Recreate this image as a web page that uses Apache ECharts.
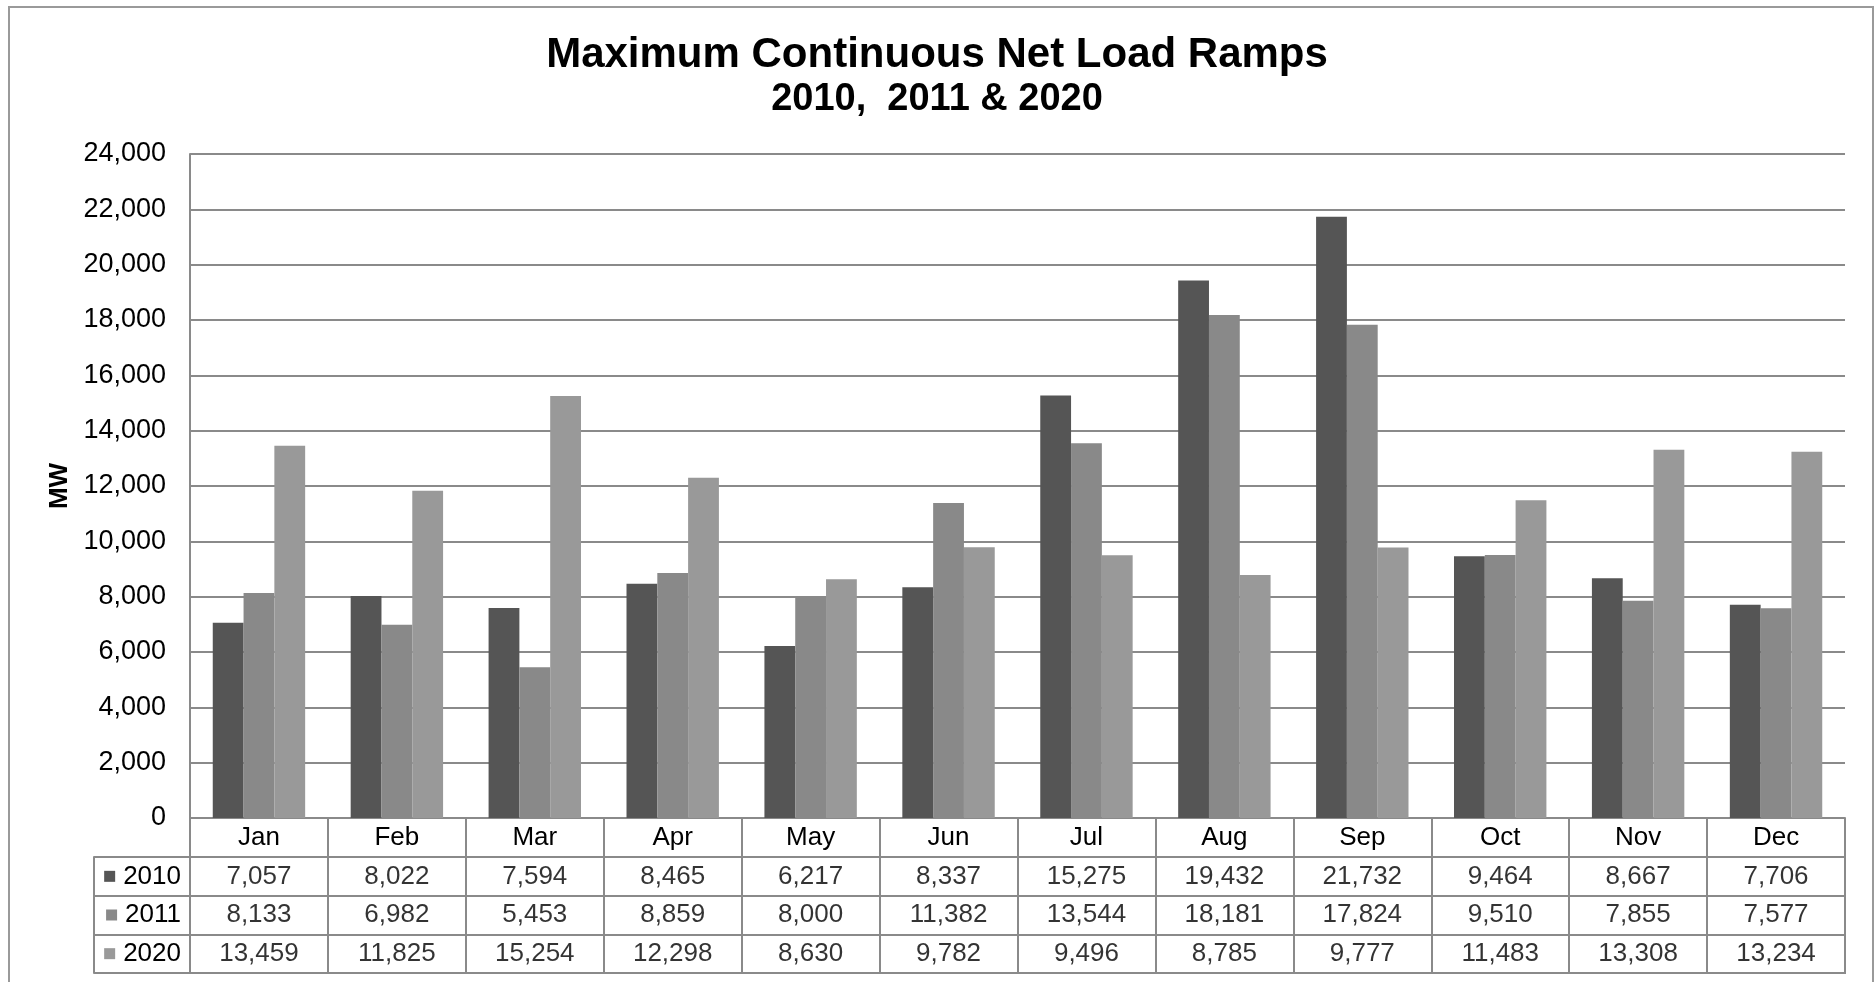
<!DOCTYPE html>
<html>
<head>
<meta charset="utf-8">
<script src="https://cdn.jsdelivr.net/npm/echarts@6/dist/echarts.min.js"></script>
<style>
  html, body { margin: 0; padding: 0; background: #fff; }
  #chart { width: 1874px; height: 982px; }
  #frame { position: absolute; left: 8px; top: 6px; width: 1862px; height: 990px;
           border: 2px solid #9a9a9a; pointer-events: none; }
</style>
</head>
<body>
<div id="chart"></div>
<div id="frame"></div>
<script>
const months = ['Jan','Feb','Mar','Apr','May','Jun','Jul','Aug','Sep','Oct','Nov','Dec'];
const years = ['2010','2011','2020'];
const values2010 = [7057, 8022, 7594, 8465, 6217, 8337, 15275, 19432, 21732, 9464, 8667, 7706];
const values2011 = [8133, 6982, 5453, 8859, 8000, 11382, 13544, 18181, 17824, 9510, 7855, 7577];
const values2020 = [13459, 11825, 15254, 12298, 8630, 9782, 9496, 8785, 9777, 11483, 13308, 13234];
const yTicks = { min: 0, max: 24000, interval: 2000 };
const titleLine1 = 'Maximum Continuous Net Load Ramps';
const titleLine2 = '2010,  2011 & 2020';

const seriesValues = [values2010, values2011, values2020];
const colors = ['#555555', '#898989', '#999999'];
const lineColor = '#8a8a8a';
const font = 'Liberation Sans, Arial, sans-serif';
const fmt = v => Number(v).toLocaleString('en-US');

const chart = echarts.init(document.getElementById('chart'), null, { renderer: 'canvas' });

const barSeries = years.map((y, s) => ({
  name: y,
  type: 'bar',
  xAxisIndex: 0,
  yAxisIndex: 0,
  barGap: '0%',
  barCategoryGap: '33%',
  itemStyle: { color: colors[s] },
  data: seriesValues[s]
}));

const tableSeries = years.map((y, s) => ({
  name: 'table-' + y,
  type: 'scatter',
  xAxisIndex: 1,
  yAxisIndex: 1,
  symbolSize: 0,
  silent: true,
  label: {
    show: true,
    position: 'inside',
    color: '#000',
    fontSize: 26,
    fontFamily: font,
    formatter: p => fmt(p.value[2])
  },
  data: seriesValues[s].map((v, i) => [months[i], y, v])
}));

const richLegend = { t: { fontSize: 26, fontFamily: font, color: '#000', padding: [0, 0, 0, 8] } };
years.forEach((y, s) => {
  richLegend['m' + s] = { width: 11, height: 11, backgroundColor: colors[s] };
});

const option = {
  animation: false,
  backgroundColor: '#fff',
  title: [
    { text: titleLine1, left: 'center', top: 34, padding: 0,
      textStyle: { fontSize: 42, fontWeight: 'bold', color: '#000', fontFamily: font } },
    { text: titleLine2, left: 'center', top: 81, padding: 0,
      textStyle: { fontSize: 38, fontWeight: 'bold', color: '#000', fontFamily: font } }
  ],
  grid: [
    { left: 190, right: 29, top: 154, bottom: 164, containLabel: false },
    { left: 190, right: 29, top: 857, height: 116, show: true,
      borderColor: lineColor, borderWidth: 2, backgroundColor: 'transparent' }
  ],
  xAxis: [
    {
      type: 'category', gridIndex: 0, data: months, position: 'bottom',
      axisLine: { show: true, lineStyle: { color: lineColor, width: 2 } },
      axisTick: { show: true, interval: 0, length: 39, lineStyle: { color: lineColor, width: 2 } },
      axisLabel: { show: true, interval: 0, margin: 7, fontSize: 26, color: '#000', fontFamily: font },
      splitLine: { show: false }
    },
    {
      type: 'category', gridIndex: 1, data: months, position: 'top',
      axisLine: { show: true, lineStyle: { color: lineColor, width: 2 } },
      axisTick: { show: false },
      axisLabel: { show: false },
      splitLine: { show: true, interval: 0, lineStyle: { color: lineColor, width: 2 } }
    }
  ],
  yAxis: [
    {
      type: 'value', gridIndex: 0, min: yTicks.min, max: yTicks.max, interval: yTicks.interval,
      name: 'MW', nameLocation: 'middle', nameGap: 115, nameRotate: 90,
      nameTextStyle: { fontSize: 26, fontWeight: 'bold', color: '#000', fontFamily: font },
      axisLine: { show: true, lineStyle: { color: lineColor, width: 2 } },
      axisTick: { show: false },
      axisLabel: { margin: 24, fontSize: 27, color: '#000', fontFamily: font, formatter: v => fmt(v) },
      splitLine: { show: true, lineStyle: { color: lineColor, width: 2 } }
    },
    {
      type: 'category', gridIndex: 1, data: years, inverse: true, position: 'left',
      axisLine: { show: true, lineStyle: { color: lineColor, width: 2 } },
      axisTick: { show: true, interval: 0, length: 96, lineStyle: { color: lineColor, width: 2 } },
      axisLabel: {
        show: true, margin: 9, interval: 0,
        formatter: (v) => '{m' + years.indexOf(v) + '|}{t|' + v + '}',
        rich: richLegend
      },
      splitLine: { show: true, interval: 0, lineStyle: { color: lineColor, width: 2 } }
    },
    {
      type: 'category', gridIndex: 1, data: years, inverse: true, position: 'left', offset: 96,
      axisLine: { show: true, lineStyle: { color: lineColor, width: 2 } },
      axisTick: { show: false },
      axisLabel: { show: false },
      splitLine: { show: false }
    }
  ],
  series: barSeries.concat(tableSeries)
};

chart.setOption(option);
</script>
</body>
</html>
